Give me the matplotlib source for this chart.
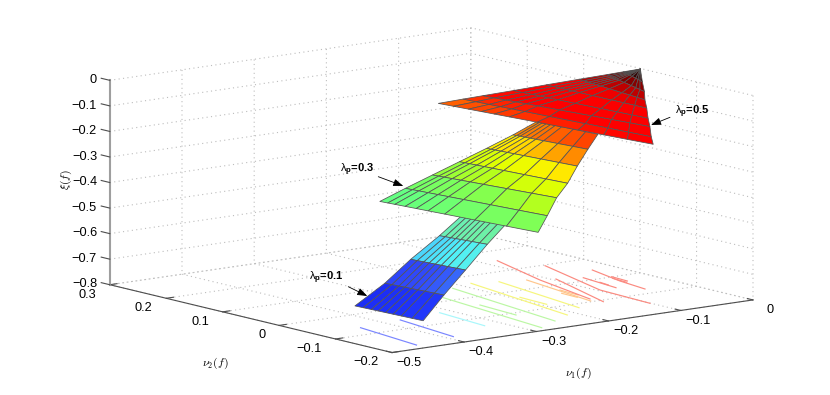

import numpy as np, matplotlib
matplotlib.use('Agg')
import matplotlib.pyplot as plt
from matplotlib.colors import LinearSegmentedColormap
from matplotlib.transforms import Affine2D

# ---- values ----
NU1_TICKS = [-.5, -.4, -.3, -.2, -.1, 0]
NU2_TICKS = [-.2, -.1, 0, .1, .2, .3]
XI_TICKS = [-.8, -.7, -.6, -.5, -.4, -.3, -.2, -.1, 0]
NU1_LABELS = ['\u22120.5', '\u22120.4', '\u22120.3', '\u22120.2', '\u22120.1', '0']
NU2_LABELS = ['\u22120.2', '\u22120.1', '0', '0.1', '0.2', '0.3']
XI_LABELS = ['\u22120.8', '\u22120.7', '\u22120.6', '\u22120.5', '\u22120.4', '\u22120.3', '\u22120.2', '\u22120.1', '0']

# lambda_p = 0.1 surface: row ends (left/right) and mesh column positions
S1_NU1_L = [-.438, -.395, -.342, -.292, -.239]
S1_NU2_L = [-.055, -.053, -.031, -.018, .003]
S1_NU1_R = [-.460, -.414, -.356, -.300, -.244]
S1_NU2_R = [-.204, -.182, -.146, -.113, -.081]
S1_XI_L = [-.72, -.65, -.59, -.525, -.465]
S1_XI_R = [-.69, -.62, -.565, -.505, -.45]
S1_COLS = [0, .12, .24, .34, .45, .56, .68, .84, 1]
# lambda_p = 0.3 surface
S2_NU1_L = [-.280, -.243, -.204, -.165, -.126, -.087, -.051]
S2_NU2_L = [.103, .105, .107, .109, .111, .114, .118]
S2_NU1_R = [-.314, -.274, -.229, -.195, -.148, -.106, -.071]
S2_NU2_R = [-.221, -.186, -.145, -.121, -.078, -.043, -.016]
S2_XI_L = [-.46, -.425, -.39, -.355, -.32, -.285, -.25]
S2_XI_R = [-.395, -.365, -.335, -.305, -.28, -.25, -.22]
S2_COLS = [0, .05, .095, .16, .23, .305, .41, .6, .8, 1]
# lambda_p = 0.5 surface
S3_NU1_L = [-.052, -.046, -.041, -.033, -.025, -.017, -.010, -.006, -.002]
S3_NU2_L = [.291, .255, .226, .182, .134, .086, .046, .022, -.003]
S3_NU1_R = [-.096, -.087, -.074, -.064, -.051, -.041, -.030, -.018, -.002]
S3_NU2_R = [-.146, -.131, -.112, -.096, -.077, -.061, -.046, -.027, -.003]
S3_XI_L = [-.27, -.2365, -.2098, -.1696, -.125, -.081, -.0446, -.0224, 0]
S3_XI_R = [-.18, -.162, -.1377, -.1179, -.0936, -.0738, -.054, -.0306, 0]
S3_COLS = [0, .07, .14, .2, .26, .33, .46, .65, .77, .88, 1]

# contour traces on the floor: (colour, nu1, nu2)
BLUE = '#7a86ff'; CYAN = '#a8f7fb'; GREEN = '#bcf7a4'; YELLOW = '#f6f67c'; ORANGE = '#ffc68c'; RED = '#fb8a80'
CONTOURS = [
    (BLUE, [-.438, -.452], [-.065, -.182]),
    (BLUE, [-.376, -.390], [-.056, -.168]),
    (CYAN, [-.316, -.324], [-.049, -.139]),
    (GREEN, [-.2172, -.2463], [.0542, -.1643]),
    (GREEN, [-.259, -.2818], [.0174, -.1861]),
    (GREEN, [-.2536, -.2584], [-.0407, -.1107]),
    (YELLOW, [-.1835, -.2142], [.0649, -.145]),
    (YELLOW, [-.1536, -.1779], [.0535, -.1193]),
    (YELLOW, [-.1915, -.1936], [-.0321, -.0821]),
    (ORANGE, [-.1236, -.1438], [.0428, -.0964]),
    (ORANGE, [-.1308, -.1332], [-.0253, -.0603]),
    (ORANGE, [-.1412, -.1421], [-.0416, -.0704]),
    (RED, [-.0797, -.1122, -.1372], [.1511, .0339, -.0867]),
    (RED, [-.0565, -.0963, -.1009], [.0962, -.0521, -.1466]),
    (RED, [-.0948, -.1354], [.0278, -.108]),
    (RED, [-.0666, -.0743], [.0155, -.0523]),
    (RED, [-.0312, -.0468, -.0539], [.0448, -.0242, -.0776]),
    (RED, [-.0687, -.0712], [-.0168, -.0347]),
    (RED, [-.0385, -.0405], [.0011, -.0291]),
    (RED, [-.0434, -.0457], [-.0069, -.0346]),
]

# colour scale: (xi, colour)
CMAP_NODES = [(-.8, (0, 0, 200)), (-.67, (30, 50, 250)), (-.605, (50, 75, 250)), (-.546, (80, 240, 250)),
              (-.486, (110, 240, 170)), (-.44, (100, 255, 130)), (-.38, (130, 255, 80)), (-.35, (190, 255, 20)),
              (-.32, (230, 255, 0)), (-.30, (255, 240, 0)), (-.265, (255, 130, 0)), (-.24, (255, 70, 0)),
              (-.18, (255, 0, 0)), (-.10, (250, 0, 0)), (-.05, (170, 0, 0)), (-.025, (90, 0, 0)), (0, (15, 15, 15))]

# ---- drawing ----
plt.rcParams['font.family'] = ['Liberation Sans', 'DejaVu Sans']
plt.rcParams.update({'mathtext.fontset': 'custom', 'mathtext.rm': 'Liberation Sans',
                     'mathtext.it': 'Liberation Sans', 'mathtext.bf': 'Liberation Sans:bold'})
W, H = 830, 395
fig = plt.figure(figsize=(W / 100, H / 100), dpi=100)
cx, cy, s = 431.4, 190.13, 3572.86
Sz = s * .185
ax = fig.add_axes([(cx - .095 * s) / W, (H - cy - .095 * s) / H, Sz / W, Sz / H], projection='3d', computed_zorder=False)
ax._view_margin = 0
ax.set_xlim(-.5, 0); ax.set_ylim(-.2, .3); ax.set_zlim(-.8, 0)
ax.view_init(10.7859, -127.9107)
ax.set_proj_type('persp', focal_length=1e6)
ax.set_box_aspect((2.1991, 2.2074, 1))

cmap = LinearSegmentedColormap.from_list('xi', [((z + .8) / .8, tuple(c / 255 for c in col)) for z, col in CMAP_NODES], N=512)

def mesh(nl, yl, nr, yr, zl, zr, cols):
    t = np.asarray(cols)[None, :]
    f = lambda a, b: np.asarray(a)[:, None] * (1 - t) + np.asarray(b)[:, None] * t
    return f(nl, nr), f(yl, yr), f(zl, zr)

for color, nu1, nu2 in CONTOURS:
    ax.plot(nu1, nu2, [-.8] * len(nu1), color=color, lw=.85, zorder=1)
surfaces = [(S1_NU1_L, S1_NU2_L, S1_NU1_R, S1_NU2_R, S1_XI_L, S1_XI_R, S1_COLS),
            (S2_NU1_L, S2_NU2_L, S2_NU1_R, S2_NU2_R, S2_XI_L, S2_XI_R, S2_COLS),
            (S3_NU1_L, S3_NU2_L, S3_NU1_R, S3_NU2_R, S3_XI_L, S3_XI_R, S3_COLS)]
for k, sf in enumerate(surfaces):
    X, Y, Z = mesh(*sf)
    ax.plot_surface(X, Y, Z, rstride=1, cstride=1, cmap=cmap, vmin=-.8, vmax=0, shade=False,
                    edgecolor=(.33, .33, .33), linewidth=.55, antialiased=True, zorder=2 + k)
ax.set_xlim(-.5, 0); ax.set_ylim(-.2, .3); ax.set_zlim(-.8, 0)

ax.set_xticks(NU1_TICKS); ax.set_xticklabels(NU1_LABELS)
ax.set_yticks(NU2_TICKS); ax.set_yticklabels(NU2_LABELS)
ax.set_zticks(XI_TICKS); ax.set_zticklabels(XI_LABELS)
for a in (ax.xaxis, ax.yaxis, ax.zaxis):
    a.set_pane_color((1, 1, 1, 0)); a.pane.set_edgecolor((1, 1, 1, 0))
    a._axinfo['grid'].update(color=(.74, .74, .74), linestyle=(0, (1, 3)), linewidth=.8)
    a._axinfo['tick'].update(inward_factor=0, outward_factor=.25)
    a.line.set_color((.3, .3, .3)); a.line.set_linewidth(.8)
    a.set_rotate_label(False)
ax.zaxis._axinfo['tick'].update(outward_factor=.38)
ax.zaxis.line.set_color((.62, .62, .62)); ax.zaxis.line.set_linewidth(1.5)
ax.tick_params(labelsize=9.2, width=.6, color=(.3, .3, .3))
ax.tick_params(axis='x', pad=7)
ax.tick_params(axis='y', pad=1.5)
ax.tick_params(axis='z', pad=-3.1)
ax.zaxis.set_ticks_position('upper'); ax.zaxis.set_label_position('upper')
ax.zaxis._get_tickdir = lambda position: 1   # z ticks point along the nu2 direction, outwards
for t in ax.xaxis.get_major_ticks():
    t.label1.set_va('bottom')
for t in ax.yaxis.get_major_ticks():
    t.label1.set_va('center'); t.label1.set_ha('right')
for t in ax.zaxis.get_major_ticks():
    t.label1.set_va('center'); t.label1.set_ha('right')
ax.set_xlabel(r'$\nu_1(f)$', fontsize=8.5, math_fontfamily='cm')
ax.set_ylabel(r'$\nu_2(f)$', fontsize=8.5, math_fontfamily='cm')
ax.set_zlabel(r'$\xi(f)$', fontsize=8.5, math_fontfamily='cm', rotation=90)
for axis, dx, dy in ((ax.xaxis, -23, -20), (ax.yaxis, 1, -19), (ax.zaxis, 21.7, 2)):
    axis.label.get_transform = (lambda dx=dx, dy=dy: ax.transData + Affine2D().translate(dx, dy))

NOTES = [(r'$\lambda_{\mathbf{p}}$=0.1', (309, 280), (348.3, 286.7), (367.3, 296)),
         (r'$\lambda_{\mathbf{p}}$=0.3', (340, 172), (378.3, 176.7), (403.3, 186)),
         (r'$\lambda_{\mathbf{p}}$=0.5', (675, 114), (670, 117.3), (651, 125))]
for txt, (tx, ty), (ax0, ay0), (ax1, ay1) in NOTES:
    fig.text(tx / W, 1 - ty / H, txt, fontsize=8, fontweight='bold', math_fontfamily='custom', va='baseline', ha='left')
    ax.annotate('', xy=(ax1, H - ay1), xytext=(ax0, H - ay0), xycoords='figure pixels', textcoords='figure pixels',
                arrowprops=dict(arrowstyle='-|>,head_length=.6,head_width=.22', color='black', lw=.6, shrinkA=0, shrinkB=0, mutation_scale=10))
fig.savefig('out.png', dpi=100)
